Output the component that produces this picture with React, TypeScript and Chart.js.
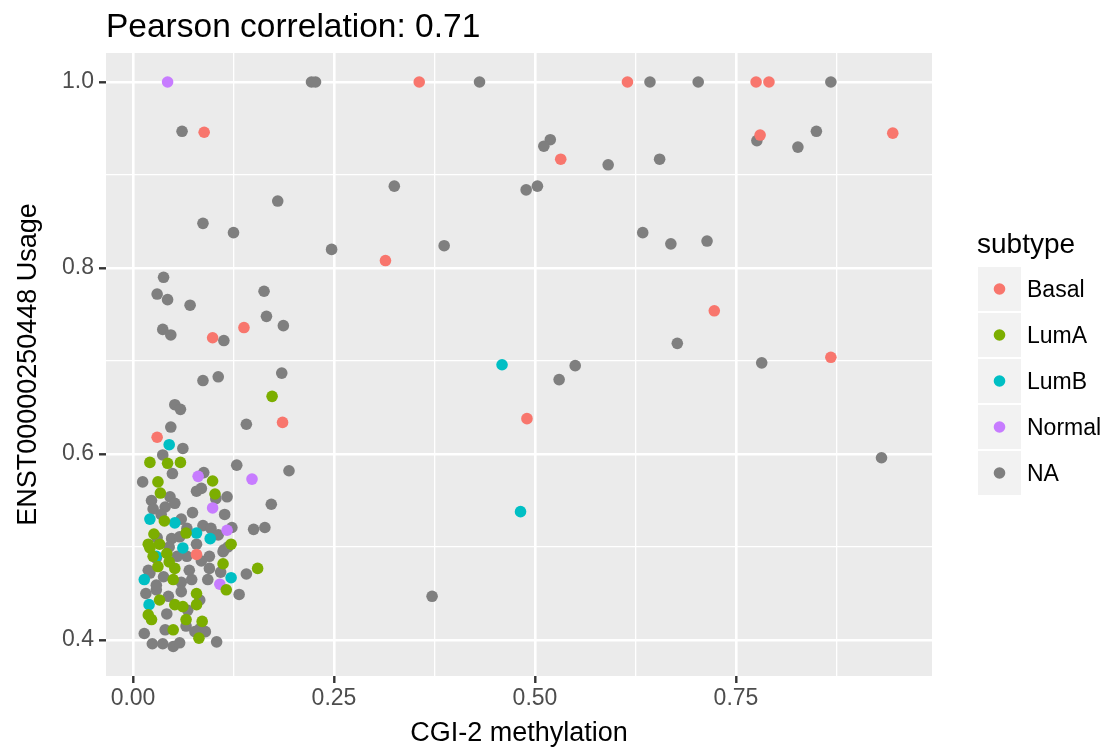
import React, { useEffect, useRef } from 'react';
import { Chart, registerables } from 'chart.js';

Chart.register(...registerables);

const TITLE = 'Pearson correlation: 0.71';
const X_LABEL = 'CGI-2 methylation';
const Y_LABEL = 'ENST00000250448 Usage';
const LEGEND_TITLE = 'subtype';
const SUBTYPES = ['Basal', 'LumA', 'LumB', 'Normal', 'NA'];
const COLORS = ['#F8766D', '#7CAE00', '#00BFC4', '#C77CFF', '#7F7F7F'];

const X_TICKS = [0, 0.125, 0.25, 0.375, 0.5, 0.625, 0.75, 0.875];
const Y_TICKS = [0.4, 0.5, 0.6, 0.7, 0.8, 0.9, 1.0];

const basalX = [0.0885, 0.356, 0.615, 0.775, 0.791, 0.532, 0.780, 0.945, 0.314, 0.723, 0.868, 0.490, 0.099, 0.138, 0.186, 0.030, 0.079];
const basalY = [0.946, 1.0, 1.0, 1.0, 1.0, 0.917, 0.943, 0.945, 0.808, 0.754, 0.704, 0.638, 0.725, 0.736, 0.634, 0.618, 0.492];

const lumAX = [0.173, 0.021, 0.043, 0.059, 0.031, 0.099, 0.034, 0.102, 0.039, 0.026, 0.019, 0.033, 0.066, 0.122, 0.025, 0.042, 0.112, 0.155, 0.116, 0.050, 0.079, 0.033, 0.052, 0.062, 0.023, 0.066, 0.086, 0.050, 0.082, 0.031, 0.052, 0.019, 0.079, 0.021, 0.045];
const lumAY = [0.662, 0.591, 0.590, 0.591, 0.570, 0.571, 0.558, 0.557, 0.528, 0.514, 0.503, 0.503, 0.515, 0.503, 0.490, 0.493, 0.482, 0.477, 0.454, 0.465, 0.450, 0.443, 0.438, 0.436, 0.422, 0.422, 0.420, 0.411, 0.402, 0.479, 0.477, 0.427, 0.438, 0.499, 0.484];

const lumBX = [0.459, 0.482, 0.045, 0.021, 0.052, 0.079, 0.096, 0.062, 0.122, 0.014, 0.020, 0.029];
const lumBY = [0.696, 0.538, 0.610, 0.530, 0.526, 0.515, 0.509, 0.499, 0.467, 0.465, 0.438, 0.490];

const normalX = [0.043, 0.081, 0.148, 0.099, 0.117, 0.108];
const normalY = [1.0, 0.576, 0.573, 0.542, 0.518, 0.460];

const naX = [
  0.222, 0.227, 0.431, 0.643, 0.703, 0.868, 0.061, 0.325, 0.180, 0.087,
  0.125, 0.247, 0.519, 0.511, 0.591, 0.655, 0.776, 0.827, 0.850, 0.489,
  0.503, 0.387, 0.634, 0.669, 0.714, 0.677, 0.550, 0.530, 0.782, 0.931,
  0.372, 0.038, 0.030, 0.043, 0.071, 0.037, 0.047, 0.113, 0.163, 0.166,
  0.187, 0.185, 0.106, 0.087, 0.141, 0.052, 0.059, 0.047, 0.062, 0.037,
  0.049, 0.088, 0.129, 0.194, 0.012, 0.085, 0.079, 0.103, 0.117, 0.023,
  0.046, 0.052, 0.025, 0.040, 0.074, 0.114, 0.172, 0.067, 0.087, 0.097,
  0.123, 0.150, 0.164, 0.106, 0.048, 0.058, 0.079, 0.113, 0.029, 0.067,
  0.095, 0.095, 0.109, 0.141, 0.132, 0.021, 0.038, 0.060, 0.073, 0.016,
  0.029, 0.060, 0.044, 0.083, 0.042, 0.068, 0.066, 0.083, 0.090, 0.014,
  0.024, 0.037, 0.050, 0.058, 0.104, 0.040, 0.019, 0.029, 0.077, 0.118,
  0.112, 0.093, 0.035, 0.045, 0.055, 0.070, 0.085, 0.060, 0.030,
];
const naY = [
  1.0, 1.0, 1.0, 1.0, 1.0, 1.0, 0.947, 0.888, 0.872, 0.848,
  0.838, 0.820, 0.938, 0.931, 0.911, 0.917, 0.937, 0.930, 0.947, 0.884,
  0.888, 0.824, 0.838, 0.826, 0.829, 0.719, 0.695, 0.680, 0.698, 0.596,
  0.447, 0.790, 0.772, 0.766, 0.760, 0.734, 0.728, 0.722, 0.775, 0.748,
  0.738, 0.687, 0.683, 0.679, 0.632, 0.653, 0.648, 0.629, 0.606, 0.599,
  0.579, 0.580, 0.588, 0.582, 0.570, 0.563, 0.560, 0.552, 0.554, 0.550,
  0.554, 0.547, 0.541, 0.543, 0.537, 0.535, 0.546, 0.520, 0.523, 0.520,
  0.521, 0.519, 0.521, 0.513, 0.509, 0.511, 0.503, 0.497, 0.488, 0.490,
  0.490, 0.477, 0.473, 0.471, 0.449, 0.472, 0.468, 0.462, 0.465, 0.450,
  0.454, 0.452, 0.447, 0.443, 0.428, 0.432, 0.415, 0.412, 0.409, 0.407,
  0.396, 0.396, 0.393, 0.397, 0.398, 0.411, 0.475, 0.459, 0.409, 0.500,
  0.495, 0.465, 0.535, 0.500, 0.490, 0.475, 0.485, 0.530, 0.510,
];

const SERIES_X = [basalX, lumAX, lumBX, normalX, naX];
const SERIES_Y = [basalY, lumAY, lumBY, normalY, naY];

const FONT = '"Liberation Sans", Arial, Helvetica, sans-serif';

const isMultiple = (v: number, step: number) => Math.abs(v / step - Math.round(v / step)) < 1e-6;

export default function App() {
  const canvasRef = useRef<HTMLCanvasElement | null>(null);

  useEffect(() => {
    const canvas = canvasRef.current;
    if (!canvas) return;

    const bgPlugin = {
      id: 'panelBg',
      beforeDraw(chart: any) {
        const { ctx, chartArea: a } = chart;
        ctx.save();
        ctx.fillStyle = '#FFFFFF';
        ctx.fillRect(0, 0, chart.width, chart.height);
        ctx.fillStyle = '#EBEBEB';
        ctx.fillRect(a.left, a.top, a.right - a.left, a.bottom - a.top);
        ctx.restore();
      },
    };

    const decorPlugin = {
      id: 'decor',
      afterDraw(chart: any) {
        const { ctx } = chart;
        ctx.save();
        ctx.fillStyle = '#000000';
        ctx.textAlign = 'left';
        ctx.textBaseline = 'alphabetic';
        ctx.font = `33.5px ${FONT}`;
        ctx.fillText(TITLE, 106, 37);

        ctx.font = `28px ${FONT}`;
        ctx.fillText(LEGEND_TITLE, 977, 253);

        SUBTYPES.forEach((name, i) => {
          const top = 267 + i * 46;
          ctx.fillStyle = '#F2F2F2';
          ctx.fillRect(978, top, 43, 44);
          ctx.fillStyle = COLORS[i];
          ctx.beginPath();
          ctx.arc(999.5, top + 22, 5.8, 0, Math.PI * 2);
          ctx.fill();
          ctx.fillStyle = '#000000';
          ctx.font = `23px ${FONT}`;
          ctx.fillText(name, 1027, top + 30);
        });
        ctx.restore();
      },
    };

    const chart = new Chart(canvas, {
      type: 'scatter',
      data: {
        datasets: SUBTYPES.map((name, i) => ({
          label: name,
          data: SERIES_X[i].map((x, j) => ({ x, y: SERIES_Y[i][j] })),
          backgroundColor: COLORS[i],
          borderWidth: 0,
          pointRadius: 5.8,
          pointHoverRadius: 5.8,
        })),
      },
      options: {
        responsive: false,
        animation: false,
        events: [],
        layout: { padding: { top: 53, right: 176, left: 0, bottom: 0 } },
        plugins: {
          legend: { display: false },
          tooltip: { enabled: false },
          title: { display: false },
        },
        scales: {
          x: {
            type: 'linear',
            min: -0.0336,
            max: 0.9938,
            afterBuildTicks: (s: any) => {
              s.ticks = X_TICKS.map((v) => ({ value: v }));
            },
            afterFit: (s: any) => {
              s.height = 74;
            },
            border: { display: false },
            grid: {
              color: '#FFFFFF',
              lineWidth: (c: any) => (isMultiple(c.tick.value, 0.25) ? 2.6 : 1.3),
              tickColor: (c: any) => (isMultiple(c.tick.value, 0.25) ? '#333333' : 'rgba(0,0,0,0)'),
              tickWidth: 2.4,
              tickLength: 7,
            },
            ticks: {
              autoSkip: false,
              maxRotation: 0,
              padding: 2,
              color: '#4D4D4D',
              font: { family: FONT, size: 23 },
              callback: (v: any) => (isMultiple(Number(v), 0.25) ? Number(v).toFixed(2) : ''),
            },
            title: {
              display: true,
              text: X_LABEL,
              color: '#000000',
              font: { family: FONT, size: 27 },
              padding: { top: 0, bottom: 0 },
            },
          },
          y: {
            type: 'linear',
            min: 0.3613,
            max: 1.0312,
            afterBuildTicks: (s: any) => {
              s.ticks = Y_TICKS.map((v) => ({ value: v }));
            },
            afterFit: (s: any) => {
              s.width = 106;
            },
            border: { display: false },
            grid: {
              color: '#FFFFFF',
              lineWidth: (c: any) => (isMultiple(c.tick.value, 0.2) ? 2.6 : 1.3),
              tickColor: (c: any) => (isMultiple(c.tick.value, 0.2) ? '#333333' : 'rgba(0,0,0,0)'),
              tickWidth: 2.4,
              tickLength: 7,
            },
            ticks: {
              autoSkip: false,
              padding: 5,
              color: '#4D4D4D',
              font: { family: FONT, size: 23 },
              callback: (v: any) => (isMultiple(Number(v), 0.2) ? Number(v).toFixed(1) : ''),
            },
            title: {
              display: true,
              text: Y_LABEL,
              color: '#000000',
              font: { family: FONT, size: 27 },
              padding: { top: 12, bottom: 0 },
            },
          },
        },
      },
      plugins: [bgPlugin, decorPlugin],
    } as any);

    return () => {
      chart.destroy();
    };
  }, []);

  return (
    <div style={{ position: 'absolute', left: 0, top: 0, width: 1108, height: 750 }}>
      <canvas ref={canvasRef} width={1108} height={750} style={{ display: 'block' }} />
    </div>
  );
}
